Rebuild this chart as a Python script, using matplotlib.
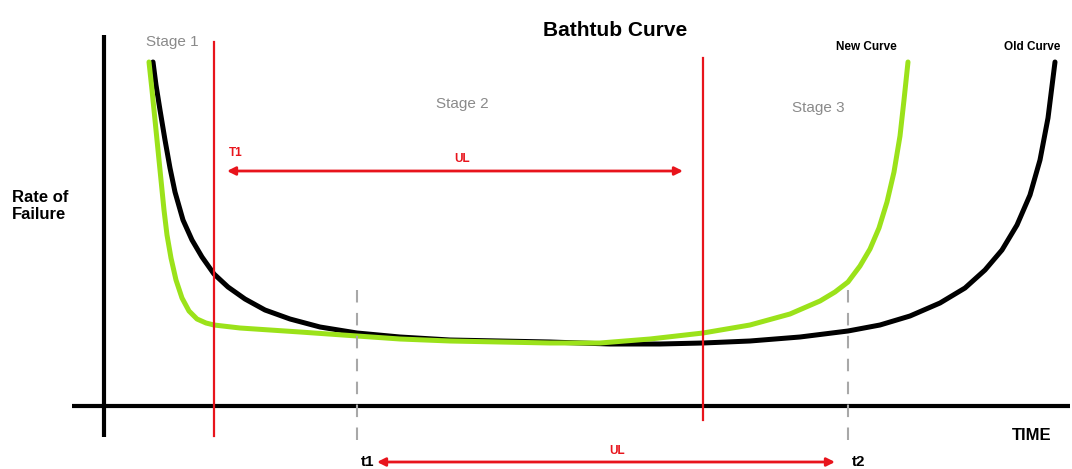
import matplotlib.pyplot as plt

plt.rcParams['font.family'] = ['Liberation Sans', 'DejaVu Sans']

# curve points (x = time position, y = height on the page, down is lower rate)
old_x = [153, 156, 160, 165, 170, 175, 183, 192, 202, 214, 228, 245, 265, 290, 320, 357, 400,
         450, 500, 550, 610, 660, 703, 750, 800, 848, 880, 910, 940, 965, 985, 1002, 1017,
         1030, 1040, 1048, 1055]
old_y = [62, 85, 110, 140, 168, 192, 220, 240, 257, 274, 287, 299, 310, 319, 327, 333, 337,
         340, 341, 342, 344, 344, 343, 341, 337, 331, 325, 316, 303, 288, 270, 250, 225,
         195, 160, 118, 62]

new_x = [149, 152, 155, 158, 161, 164, 167, 171, 176, 182, 189, 197, 206, 214, 240, 270, 300,
         357, 400, 450, 500, 550, 600, 650, 703, 750, 790, 820, 835, 848, 860, 870, 879,
         887, 894, 900, 904, 908]
new_y = [62, 90, 120, 150, 180, 210, 235, 258, 280, 298, 311, 319, 323, 325, 328, 330, 332,
         336, 339, 341, 342, 343, 343, 339, 333, 325, 314, 301, 292, 282, 266, 249, 228,
         202, 172, 136, 100, 62]

red_lines = [214, 703]
red_tops = [42, 58]
red_bottoms = [436, 420]
dash_lines = [357, 848]
dash_labels = ['t1', 't2']

stage_labels = ['Stage 1', 'Stage 2', 'Stage 3']
stage_pos = [(172, 42), (462, 104), (818, 108)]

fig = plt.figure(figsize=(10.72, 4.69), dpi=100)
ax = fig.add_axes([0, 0, 1, 1])
ax.set_xlim(0, 1072)
ax.set_ylim(469, 0)
ax.axis('off')

# hand drawn axes
ax.plot([104, 104], [35, 437], color='black', lw=3.0, solid_capstyle='butt')
ax.plot([72, 1070], [406, 406], color='black', lw=3.0, solid_capstyle='butt')

# stage boundaries
for x, top, bot in zip(red_lines, red_tops, red_bottoms):
    ax.plot([x, x], [top, bot], color='#e8141c', lw=1.6, zorder=3)
for x, lab in zip(dash_lines, dash_labels):
    ax.plot([x, x], [290, 450], color='#a8a8a8', lw=1.5, dashes=(6, 5), zorder=3)
    ax.text(x + 11, 462, lab, fontsize=11, fontweight='bold', ha='center', va='center')

# curves
ax.plot(old_x, old_y, color='black', lw=3.6, solid_capstyle='round', solid_joinstyle='round')
ax.plot(new_x, new_y, color='#9be21a', lw=3.6, solid_capstyle='round', solid_joinstyle='round')

# arrows
ax.annotate('', xy=(227, 171), xytext=(683, 171),
            arrowprops=dict(arrowstyle='<|-|>', color='#e8141c', lw=2, mutation_scale=12, shrinkA=0, shrinkB=0))
ax.annotate('', xy=(377, 462), xytext=(835, 462),
            arrowprops=dict(arrowstyle='<|-|>', color='#e8141c', lw=2, mutation_scale=12, shrinkA=0, shrinkB=0))
ax.text(236, 153, 'T1', color='#e8141c', fontsize=8.5, fontweight='bold', ha='center', va='center')
ax.text(462, 159, 'UL', color='#e8141c', fontsize=8.5, fontweight='bold', ha='center', va='center')
ax.text(617, 451, 'UL', color='#e8141c', fontsize=8.5, fontweight='bold', ha='center', va='center')

# labels
for lab, (x, y) in zip(stage_labels, stage_pos):
    ax.text(x, y, lab, color='#8a8a8a', fontsize=11, ha='center', va='center')
ax.text(615, 31, 'Bathtub Curve', fontsize=15, fontweight='bold', ha='center', va='center')
ax.text(866, 47, 'New Curve', fontsize=8.5, fontweight='bold', ha='center', va='center')
ax.text(1032, 47, 'Old Curve', fontsize=8.5, fontweight='bold', ha='center', va='center')
ax.text(12, 206, 'Rate of\nFailure', fontsize=12, fontweight='bold', ha='left', va='center', linespacing=1.2)
ax.text(1032, 436, 'TIME', fontsize=12, fontweight='bold', ha='center', va='center')

plt.savefig('out.png', dpi=100)
